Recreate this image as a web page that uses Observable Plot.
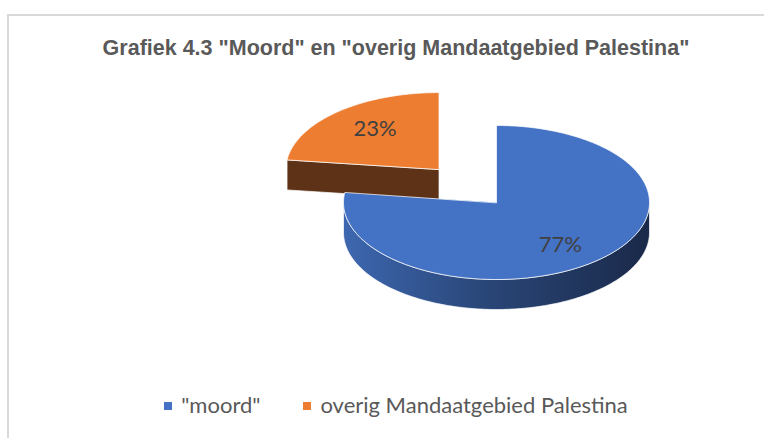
<!DOCTYPE html>
<html>
<head>
<meta charset="utf-8">
<script src="https://cdn.jsdelivr.net/npm/d3@7"></script>
<script src="https://cdn.jsdelivr.net/npm/@observablehq/plot@0.6"></script>
<style>
  html, body { margin: 0; padding: 0; background: #fff; }
  #wrap { position: relative; width: 764px; height: 438px; overflow: hidden; }
  #frame { position: absolute; left: 7px; top: 14px; width: 900px; height: 500px;
           border-left: 2px solid #d9d9d9; border-top: 2px solid #d9d9d9; box-sizing: border-box; }
  #title { position: absolute; left: 8px; width: 776px; top: 36px; text-align: center;
           font-family: "Liberation Sans", Arial, sans-serif; font-weight: bold; font-size: 21.5px;
           line-height: 24px; color: #595959; white-space: nowrap; }
  #chart { position: absolute; left: 0; top: 0; }
  #legend { position: absolute; left: 8px; width: 776px; top: 392px; display: flex; justify-content: center;
            font-family: Lato, "Open Sans", sans-serif; font-size: 22px; line-height: 26px; color: #595959; }
  .item { display: flex; align-items: center; }
  .item + .item { margin-left: 43px; }
  .sw { width: 8px; height: 8px; margin-right: 9px; margin-top: 2px; }
</style>
</head>
<body>
<div id="wrap">
  <div id="frame"></div>
  <div id="chart"></div>
  <div id="title"></div>
  <div id="legend"></div>
</div>
<script>
const titleText = 'Grafiek 4.3 "Moord" en "overig Mandaatgebied Palestina"';
const categories = ['"moord"', 'overig Mandaatgebied Palestina'];
const values = [77, 23];
const labels = ["77%", "23%"];
const topColors = ["#4472c4", "#ed7d31"];
const exploded = [0, 0.57];

// layout (pixels)
const W = 764, H = 438;
const cx = 496, cy = 202, rx = 153, ry = 77, depth = 30;

const arcs = d3.pie().sort(null).startAngle(0).endAngle(2 * Math.PI)(values);
const pt = (c, a, r = 1, dz = 0) => ({x: c[0] + rx * r * Math.sin(a), y: c[1] - ry * r * Math.cos(a) + dz});
const centers = arcs.map((a, i) => {
  const m = (a.startAngle + a.endAngle) / 2;
  const p = pt([cx, cy], m, exploded[i]);
  return [p.x, p.y];
});
function arcPts(c, a0, a1, dz = 0) {
  const n = Math.max(2, Math.ceil(Math.abs(a1 - a0) / 0.02));
  return d3.range(n + 1).map(k => pt(c, a0 + (a1 - a0) * k / n, 1, dz));
}

const tops = [], walls = [], sides = [], labelRows = [];
arcs.forEach((a, i) => {
  const c = centers[i];
  tops.push([{x: c[0], y: c[1]}, ...arcPts(c, a.startAngle, a.endAngle)].map(p => ({...p, s: i})));
  // front curved wall (angles between PI/2 and 3PI/2 face the viewer)
  const f0 = Math.max(a.startAngle, Math.PI / 2), f1 = Math.min(a.endAngle, 3 * Math.PI / 2);
  if (f1 > f0) {
    walls.push([...arcPts(c, f0, f1), ...arcPts(c, f1, f0, depth)].map(p => ({...p, s: i})));
  }
  // radial face at the start edge (visible when slice is in the back-left)
  if (a.startAngle > Math.PI) {
    const e = pt(c, a.startAngle);
    sides.push([{x: c[0], y: c[1]}, e, {x: e.x, y: e.y + depth}, {x: c[0], y: c[1] + depth}].map(p => ({...p, s: i})));
  }
  const m = (a.startAngle + a.endAngle) / 2;
  labelRows.push({x: c[0] + rx * 0.63 * Math.sin(m), y: c[1] - ry * 0.72 * Math.cos(m) + 1, text: labels[i]});
});

const orangeSide = sides.flat();
const orangeTop = tops[1];
const blueWall = walls.flat();
const blueTop = tops[0];

const common = {x: "x", y: "y", z: "s", curve: "linear-closed", stroke: "white", strokeWidth: 0.8, strokeOpacity: 0.9};
const plot = Plot.plot({
  width: W, height: H, margin: 0,
  x: {domain: [0, W], range: [0, W], axis: null},
  y: {domain: [0, H], range: [0, H], axis: null},
  marks: [
    Plot.line(orangeSide, {...common, fill: "#5d3216"}),
    Plot.line(orangeTop, {...common, fill: topColors[1]}),
    Plot.line(blueWall, {...common, fill: "url(#blueSide)"}),
    Plot.line(blueTop, {...common, fill: topColors[0]}),
    Plot.text(labelRows, {x: "x", y: "y", text: "text", fill: "#404040", fontSize: 22,
      fontFamily: "Lato, 'Open Sans', sans-serif", textAnchor: "middle"})
  ]
});
const ns = "http://www.w3.org/2000/svg";
const defs = document.createElementNS(ns, "defs");
const lg = document.createElementNS(ns, "linearGradient");
lg.setAttribute("id", "blueSide");
lg.setAttribute("x1", "0"); lg.setAttribute("x2", "1"); lg.setAttribute("y1", "0"); lg.setAttribute("y2", "0");
[["0", "#3d67b0"], ["0.45", "#2a4779"], ["1", "#1a2949"]].forEach(([o, c]) => {
  const s = document.createElementNS(ns, "stop");
  s.setAttribute("offset", o); s.setAttribute("stop-color", c);
  lg.appendChild(s);
});
defs.appendChild(lg);
plot.insertBefore(defs, plot.firstChild);
plot.style.background = "transparent";
document.getElementById("chart").appendChild(plot);

document.getElementById("title").textContent = titleText;
const leg = document.getElementById("legend");
categories.forEach((c, i) => {
  const it = document.createElement("div"); it.className = "item";
  const sw = document.createElement("div"); sw.className = "sw"; sw.style.background = topColors[i];
  const tx = document.createElement("span"); tx.textContent = c;
  it.appendChild(sw); it.appendChild(tx); leg.appendChild(it);
});
</script>
</body>
</html>
